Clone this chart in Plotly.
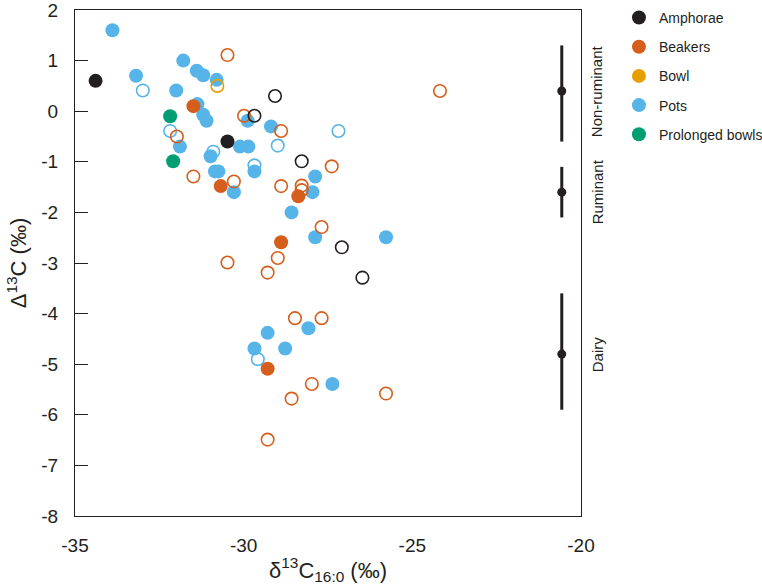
import plotly.graph_objects as go

# ---------------- data ----------------
amph_filled_x = [-34.39, -30.48]
amph_filled_y = [0.60, -0.60]
amph_open_x = [-29.07, -29.68, -28.28, -27.09, -26.48]
amph_open_y = [0.30, -0.09, -0.99, -2.69, -3.29]

beak_filled_x = [-31.49, -30.68, -28.38, -28.89, -29.29]
beak_filled_y = [0.10, -1.48, -1.68, -2.59, -5.09]
beak_open_x = [-30.48, -29.99, -28.89, -31.98, -27.39, -31.49, -30.29, -28.89, -28.28, -28.28,
               -24.18, -27.69, -28.99, -30.48, -29.29, -28.48, -27.69, -27.98, -28.58, -25.78, -29.29]
beak_open_y = [1.11, -0.09, -0.39, -0.50, -1.09, -1.29, -1.39, -1.48, -1.47, -1.56,
               0.40, -2.29, -2.90, -2.99, -3.19, -4.09, -4.09, -5.39, -5.68, -5.58, -6.49]

bowl_open_x = [-30.78]
bowl_open_y = [0.50]

pots_filled_x = [-33.89, -33.19, -31.79, -31.39, -31.20, -30.80, -32.00, -31.37, -31.20, -31.10,
                 -29.88, -29.19, -31.89, -30.11, -29.86, -30.98, -30.85, -30.75, -29.68, -30.29,
                 -27.88, -27.96, -28.58, -27.88, -25.78, -28.08, -29.29, -29.68, -28.77, -27.37]
pots_filled_y = [1.60, 0.70, 1.00, 0.80, 0.71, 0.62, 0.41, 0.14, -0.07, -0.19,
                 -0.19, -0.30, -0.70, -0.70, -0.70, -0.89, -1.19, -1.19, -1.19, -1.60,
                 -1.29, -1.60, -2.00, -2.49, -2.49, -4.29, -4.38, -4.69, -4.69, -5.39]
pots_open_x = [-32.99, -32.18, -28.99, -30.90, -27.19, -29.68, -29.58]
pots_open_y = [0.41, -0.39, -0.68, -0.80, -0.39, -1.07, -4.90]

prol_filled_x = [-32.18, -32.09]
prol_filled_y = [-0.10, -0.99]

ref_names = ["Non-ruminant", "Ruminant", "Dairy"]
ref_x = [-20.57, -20.57, -20.57]
ref_mean = [0.40, -1.60, -4.80]
ref_plus = [0.90, 0.50, 1.20]
ref_minus = [1.00, 0.50, 1.10]

categories = ["Amphorae", "Beakers", "Bowl", "Pots", "Prolonged bowls"]
colors = {"Amphorae": "#231f20", "Beakers": "#d55e1c", "Bowl": "#e69f00",
          "Pots": "#56b4e9", "Prolonged bowls": "#009e73"}

FONT = "Liberation Sans, Arial, sans-serif"
INK = "#231f20"
MS = 14

fig = go.Figure()


def add_pts(xs, ys, cat, filled):
    c = colors[cat]
    if filled:
        marker = dict(symbol="circle", size=MS, color=c, line=dict(width=0))
    else:
        marker = dict(symbol="circle-open", size=MS - 1.5, color=c, line=dict(width=1.6, color=c))
    fig.add_trace(go.Scatter(x=xs, y=ys, mode="markers", marker=marker,
                             showlegend=False, hoverinfo="x+y", name=cat))


add_pts(pots_filled_x, pots_filled_y, "Pots", True)
add_pts(pots_open_x, pots_open_y, "Pots", False)
add_pts(beak_open_x, beak_open_y, "Beakers", False)
add_pts(beak_filled_x, beak_filled_y, "Beakers", True)
add_pts(amph_open_x, amph_open_y, "Amphorae", False)
add_pts(amph_filled_x, amph_filled_y, "Amphorae", True)
add_pts(bowl_open_x, bowl_open_y, "Bowl", False)
add_pts(prol_filled_x, prol_filled_y, "Prolonged bowls", True)

# reference ranges
fig.add_trace(go.Scatter(
    x=ref_x, y=ref_mean, mode="markers",
    marker=dict(symbol="circle", size=9, color=INK),
    error_y=dict(type="data", array=ref_plus, arrayminus=ref_minus,
                 color=INK, thickness=3, width=0),
    showlegend=False, hoverinfo="y"))

# legend entries
for i, cat in enumerate(categories):
    fig.add_trace(go.Scatter(x=[None], y=[None], mode="markers", name=cat,
                             legendgroup=cat,
                             marker=dict(symbol="circle", size=14, color=colors[cat])))

annotations = []
for name, m in zip(ref_names, ref_mean):
    annotations.append(dict(x=1.032, xref="paper", y=m, yref="y", text=name,
                            textangle=-90, showarrow=False, xanchor="center", yanchor="middle",
                            font=dict(family=FONT, size=15, color=INK)))

fig.update_layout(
    width=762, height=587,
    margin=dict(l=75, r=181, t=10, b=71, autoexpand=False),
    paper_bgcolor="white", plot_bgcolor="white",
    font=dict(family=FONT, color=INK),
    annotations=annotations,
    legend=dict(x=1.075, y=1.016, xanchor="left", yanchor="top",
                font=dict(family=FONT, size=14, color=INK),
                tracegroupgap=8, traceorder="grouped",
                bgcolor="rgba(0,0,0,0)", itemclick=False),
    xaxis=dict(range=[-35, -20], tickvals=[-35, -30, -25, -20],
               ticktext=["-35", "-30", "-25", "-20"], automargin=False,
               showgrid=False, zeroline=False, showline=True, linecolor=INK, linewidth=1,
               mirror=True, ticks="", ticklabelstandoff=12, ticklabeloverflow="allow",
               tickfont=dict(family=FONT, size=19, color=INK),
               title=dict(text="δ<sup>13</sup>C<sub>16:0</sub> (‰)",
                          font=dict(family=FONT, size=22, color=INK), standoff=7)),
    yaxis=dict(range=[-8, 2], tickvals=list(range(-8, 3)),
               ticktext=[str(v) for v in range(-8, 3)], automargin=False,
               showgrid=False, zeroline=False, showline=True, linecolor=INK, linewidth=1,
               mirror=True, ticks="inside", ticklen=13, tickcolor=INK, tickwidth=1,
               ticklabelstandoff=12, ticklabeloverflow="allow",
               tickfont=dict(family=FONT, size=19, color=INK),
               title=dict(text="Δ<sup>13</sup>C (‰)",
                          font=dict(family=FONT, size=22, color=INK), standoff=8)),
)

fig.write_html("out.html", config={"displayModeBar": False},
               post_script="document.body.style.margin='0';document.body.style.overflow='hidden';")
